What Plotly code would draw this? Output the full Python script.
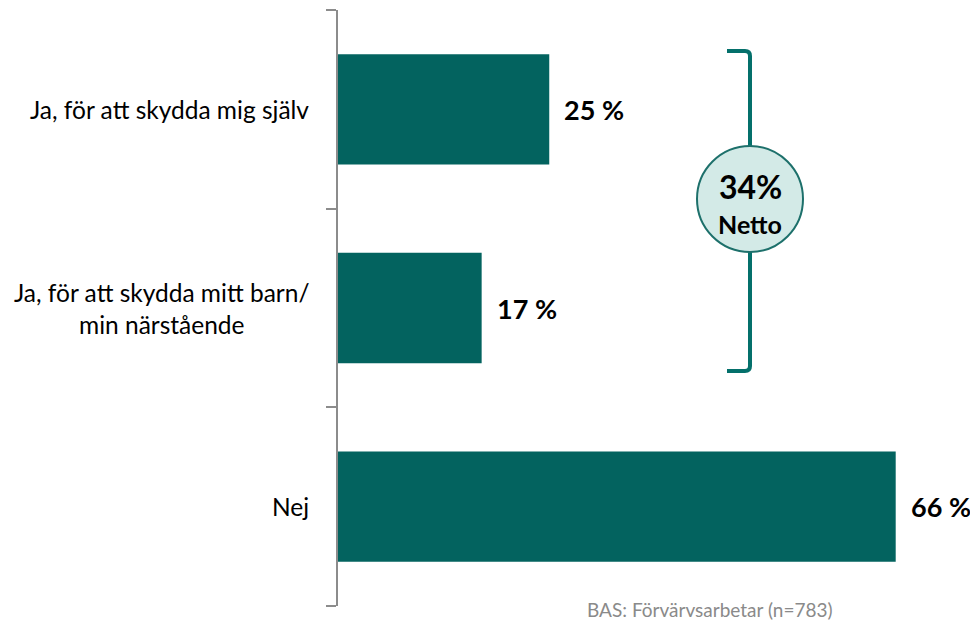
import plotly.graph_objects as go

categories = ["Ja, för att skydda mig själv", "Ja, för att skydda mitt barn/<br>min närstående", "Nej"]
values = [25, 17, 66]
value_labels = ["25 %", "17 %", "66 %"]
netto_value = "34%"
netto_label = "Netto"
footnote = "BAS: Förvärvsarbetar (n=783)"

BAR = "#03635F"
AXIS = "#8C8C8C"
FONT = "Lato"

OFF = 8  # page body margin
W, H = 978 - OFF, 621 - OFF
ML, MR, MT, MB = 338 - OFF, 0, 10 - OFF, 15
PW, PH = W - ML - MR, H - MT - MB

def px(x):
    return (x - OFF - ML) / PW

def py(y):
    return (H - MB - (y - OFF)) / PH

fig = go.Figure(go.Bar(
    x=values, y=list(range(len(categories))), orientation="h",
    marker=dict(color=BAR, line=dict(width=0)),
    hoverinfo="skip",
))

annotations = []
for i, (cat, v, lab) in enumerate(zip(categories, values, value_labels)):
    annotations.append(dict(x=px(311), xref="paper", y=i, yref="y", text=cat,
                            showarrow=False, xanchor="right", yanchor="middle", align="center",
                            font=dict(family=FONT, size=24.5, color="#000000")))
    annotations.append(dict(x=v, xref="x", y=i, yref="y", text=f"<b>{lab}</b>",
                            showarrow=False, xanchor="left", yanchor="middle", xshift=13,
                            font=dict(family=FONT, size=27, color="#000000")))

# Netto circle
cx, cy, r = 750, 199, 53
annotations.append(dict(x=px(cx), y=py(186), xref="paper", yref="paper", text=f"<b>{netto_value}</b>",
                        showarrow=False, xanchor="center", yanchor="middle",
                        font=dict(family=FONT, size=32, color="#000000")))
annotations.append(dict(x=px(cx), y=py(224), xref="paper", yref="paper", text=f"<b>{netto_label}</b>",
                        showarrow=False, xanchor="center", yanchor="middle",
                        font=dict(family=FONT, size=25, color="#000000")))
annotations.append(dict(x=px(710), y=py(609), xref="paper", yref="paper", text=footnote,
                        showarrow=False, xanchor="center", yanchor="middle",
                        font=dict(family=FONT, size=19, color="#8A8A8A")))

shapes = [
    # bracket
    dict(type="path", xref="paper", yref="paper",
         path=f"M {px(727)} {py(51)} L {px(745)} {py(51)} Q {px(750)} {py(51)} {px(750)} {py(56)} "
              f"L {px(750)} {py(366)} Q {px(750)} {py(371)} {px(745)} {py(371)} L {px(727)} {py(371)}",
         line=dict(color="#04706B", width=4), layer="below"),
    dict(type="circle", xref="paper", yref="paper",
         x0=px(cx - r), x1=px(cx + r), y0=py(cy + r), y1=py(cy - r),
         fillcolor="#D3EAE7", line=dict(color="#1D706B", width=2)),
]

fig.update_layout(
    width=W, height=H,
    margin=dict(l=ML, r=MR, t=MT, b=MB),
    paper_bgcolor="white", plot_bgcolor="white",
    showlegend=False, bargap=0.445,
    xaxis=dict(range=[0, PW / 8.45], visible=False),
    yaxis=dict(range=[2.5, -0.5], tickvals=[-0.5, 0.5, 1.5, 2.5], showticklabels=False,
               ticks="outside", ticklen=10, tickwidth=2, tickcolor=AXIS,
               showline=True, linecolor=AXIS, linewidth=2, showgrid=False, zeroline=False),
    annotations=annotations,
    shapes=shapes,
)

fig.write_html("out.html")
